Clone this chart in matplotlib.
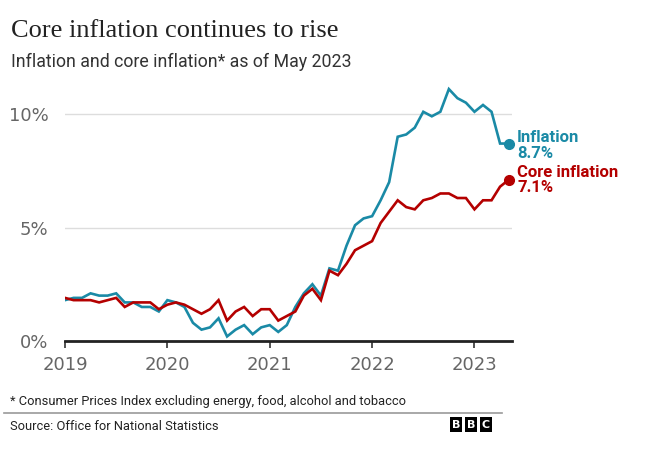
# Core inflation vs inflation, BBC style line chart

import numpy as np
import matplotlib.pyplot as plt
from matplotlib.patches import Rectangle

W, H = 654, 449

# Monthly values, Jan 2019 - May 2023
inflation = [1.8, 1.9, 1.9, 2.1, 2.0, 2.0, 2.1, 1.7, 1.7, 1.5, 1.5, 1.3,
             1.8, 1.7, 1.5, 0.8, 0.5, 0.6, 1.0, 0.2, 0.5, 0.7, 0.3, 0.6,
             0.7, 0.4, 0.7, 1.5, 2.1, 2.5, 2.0, 3.2, 3.1, 4.2, 5.1, 5.4,
             5.5, 6.2, 7.0, 9.0, 9.1, 9.4, 10.1, 9.9, 10.1, 11.1, 10.7, 10.5,
             10.1, 10.4, 10.1, 8.7, 8.7]
core = [1.9, 1.8, 1.8, 1.8, 1.7, 1.8, 1.9, 1.5, 1.7, 1.7, 1.7, 1.4,
        1.6, 1.7, 1.6, 1.4, 1.2, 1.4, 1.8, 0.9, 1.3, 1.5, 1.1, 1.4,
        1.4, 0.9, 1.1, 1.3, 2.0, 2.3, 1.8, 3.1, 2.9, 3.4, 4.0, 4.2,
        4.4, 5.2, 5.7, 6.2, 5.9, 5.8, 6.2, 6.3, 6.5, 6.5, 6.3, 6.3,
        5.8, 6.2, 6.2, 6.8, 7.1]
years = ['2019', '2020', '2021', '2022', '2023']
yticks = [0, 5, 10]

teal = '#1a8aa6'
red = '#b40000'
sans = 'Roboto'

months = np.arange(len(inflation))

fig = plt.figure(figsize=(W/100, H/100), dpi=100)
ax = fig.add_axes([65/W, 1-341/H, 447/W, 261/H])

ax.plot(months, inflation, color=teal, lw=1.9, solid_joinstyle='miter', zorder=3)
ax.plot(months, core, color=red, lw=1.9, solid_joinstyle='miter', zorder=4)
ax.plot(months[-1], inflation[-1], 'o', color=teal, ms=7, zorder=5, clip_on=False)
ax.plot(months[-1], core[-1], 'o', color=red, ms=7, zorder=5, clip_on=False)

ax.set_xlim(0, 52.4)
ax.set_ylim(0, 11.5)
ax.set_xticks([12*i for i in range(len(years))])
ax.set_xticklabels(years)
ax.set_yticks(yticks)
ax.set_yticklabels([f'{v}%' for v in yticks])
ax.tick_params(axis='x', length=5, width=1.2, color='#333333', labelsize=13,
               labelcolor='#666666', pad=6)
ax.tick_params(axis='y', length=0, labelsize=13, labelcolor='#666666', pad=12)
ax.grid(axis='y', color='#dddddd', lw=1)
for s in ['top', 'right', 'left']:
    ax.spines[s].set_visible(False)
ax.spines['bottom'].set_color('#222222')
ax.spines['bottom'].set_linewidth(2)
ax.set_axisbelow(True)

# end labels
x_lab = 517/W
fig.text(x_lab, 1-137/H, 'Inflation', color=teal, fontsize=12, fontweight='bold', va='center', family=sans)
fig.text(x_lab, 1-153/H, f'{inflation[-1]}%', color=teal, fontsize=12, fontweight='bold', va='center', family=sans)
fig.text(x_lab, 1-172/H, 'Core inflation', color=red, fontsize=12, fontweight='bold', va='center', family=sans)
fig.text(x_lab, 1-188/H, f'{core[-1]}%', color=red, fontsize=12, fontweight='bold', va='center', family=sans)

# titles
fig.text(11/W, 1-37/H, 'Core inflation continues to rise', family='Liberation Serif',
         fontsize=19, color='#222222', va='baseline')
fig.text(11/W, 1-67/H, 'Inflation and core inflation* as of May 2023',
         fontsize=12.8, color='#333333', va='baseline', family=sans)

# footer
fig.text(10/W, 1-405/H, '* Consumer Prices Index excluding energy, food, alcohol and tobacco',
         fontsize=9.3, color='#222222', va='baseline', family=sans)
fig.add_artist(plt.Line2D([4/W, 502/W], [1-413/H, 1-413/H], color='#999999', lw=1.2))
fig.text(10/W, 1-430/H, 'Source: Office for National Statistics',
         fontsize=9.3, color='#222222', va='baseline', family=sans)

# BBC logo
for i, letter in enumerate('BBC'):
    x0 = 450 + i*15
    fig.add_artist(Rectangle((x0/W, 1-432/H), 12/W, 15/H, color='black', lw=0))
    fig.text((x0+6)/W, 1-424.5/H, letter, color='white', fontsize=8, fontweight='bold',
             ha='center', va='center')

fig.savefig('out.png', dpi=100)
